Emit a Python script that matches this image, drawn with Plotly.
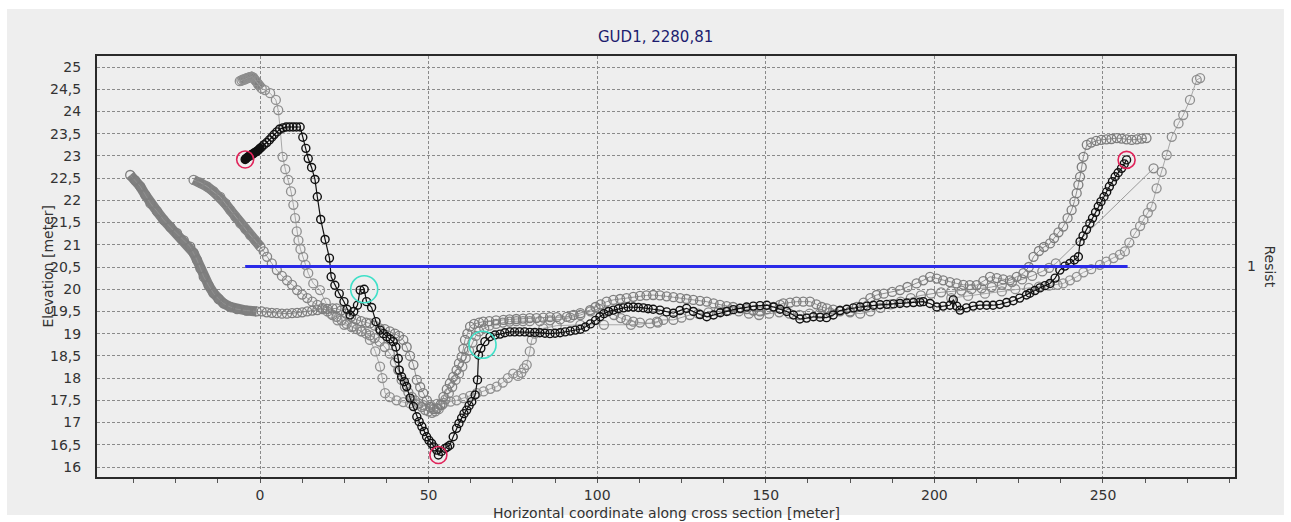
import plotly.graph_objects as go

# ---- cross-section profiles (x = horizontal coordinate [m], y = elevation [m]) ----
profile_main_x = [-4.4, -4.0, -3.5, -3.0, -2.5, -2.0, -1.5, -1.0, -0.5, 0.0, 0.5, 1.2, 2.0, 2.8, 3.5, 4.2, 5.0, 5.8,
                  6.8, 7.8, 8.8, 9.8, 10.8, 11.9, 12.7, 13.6, 14.3, 15.3, 16.3, 17.0, 18.0, 19.3, 20.6, 21.1, 22.2,
                  23.5, 24.9, 25.8, 26.7, 27.8, 28.9, 29.7, 30.9, 31.6, 33.1, 34.4, 35.6, 36.6, 37.6, 38.6, 39.5,
                  40.3, 41.0, 41.3, 42.0, 42.8, 43.5, 44.5, 45.5, 46.5, 47.2, 48.0, 48.7, 49.4, 50.1, 50.9, 51.6,
                  52.4, 52.9, 53.8, 54.9, 55.6, 56.3, 57.3, 58.3, 59.0, 59.8, 60.5, 61.3, 62.0, 62.8, 63.8, 64.5,
                  64.8, 65.5, 66.7, 68.2, 69.7, 71.2, 72.6, 74.1, 75.5, 77.0, 78.5, 80.0, 81.5, 83.0, 84.5, 86.0,
                  87.5, 89.0, 90.5, 92.0, 93.5, 95.0, 96.5, 98.0, 99.5, 100.8, 102.0, 103.4, 104.8, 106.3, 107.8,
                  109.2, 110.7, 112.2, 113.7, 115.1, 116.6, 118.6, 120.6, 122.6, 124.5, 126.5, 128.5, 130.5, 132.5,
                  134.5, 136.5, 138.4, 140.4, 142.4, 144.3, 146.3, 148.3, 150.3, 152.3, 154.2, 156.2, 158.2, 160.1,
                  162.1, 164.1, 166.1, 168.0, 170.0, 172.0, 174.0, 176.0, 178.0, 180.0, 181.9, 183.9, 185.9, 187.9,
                  189.8, 191.8, 193.8, 195.7, 196.7, 198.7, 200.7, 202.6, 204.6, 205.6, 206.6, 207.6, 209.5, 211.5,
                  213.5, 215.5, 217.4, 219.4, 221.4, 223.4, 225.3, 227.3, 228.3, 229.8, 231.3, 232.8, 234.3, 235.8,
                  237.2, 238.7, 240.2, 241.5, 242.7, 243.2, 244.1, 245.1, 246.1, 246.9, 247.8, 248.6, 249.4, 250.3,
                  251.1, 251.9, 252.8, 253.6, 254.5, 255.5, 256.3, 257.0]
profile_main_y = [22.92, 22.95, 22.98, 23.0, 23.03, 23.05, 23.08, 23.1, 23.13, 23.17, 23.2, 23.25, 23.3, 23.36, 23.42,
                  23.48, 23.54, 23.6, 23.63, 23.65, 23.65, 23.65, 23.65, 23.65, 23.42, 23.17, 22.94, 22.74, 22.47,
                  22.08, 21.57, 21.12, 20.7, 20.28, 20.09, 19.9, 19.72, 19.55, 19.42, 19.5, 19.64, 19.98, 20.0,
                  19.72, 19.59, 19.27, 19.08, 19.0, 18.93, 18.88, 18.82, 18.7, 18.44, 18.18, 18.03, 17.92, 17.81,
                  17.55, 17.36, 17.13, 17.02, 16.91, 16.8, 16.68, 16.6, 16.53, 16.45, 16.38, 16.27, 16.35, 16.42,
                  16.45, 16.49, 16.68, 16.87, 16.98, 17.1, 17.2, 17.28, 17.38, 17.47, 17.62, 17.96, 18.52, 18.67,
                  18.82, 18.93, 18.97, 18.99, 19.02, 19.04, 19.04, 19.04, 19.04, 19.03, 19.03, 19.02, 19.01, 19.0,
                  19.01, 19.02, 19.04, 19.06, 19.08, 19.1, 19.15, 19.22, 19.3, 19.38, 19.45, 19.5, 19.53, 19.56,
                  19.58, 19.6, 19.6, 19.59, 19.58, 19.56, 19.55, 19.53, 19.49, 19.46, 19.52, 19.57, 19.5, 19.43,
                  19.38, 19.42, 19.47, 19.5, 19.54, 19.57, 19.6, 19.62, 19.63, 19.64, 19.6, 19.55, 19.5, 19.42,
                  19.33, 19.35, 19.38, 19.37, 19.36, 19.42, 19.52, 19.55, 19.58, 19.6, 19.62, 19.64, 19.65, 19.66,
                  19.67, 19.68, 19.69, 19.7, 19.71, 19.72, 19.68, 19.6, 19.62, 19.64, 19.76, 19.62, 19.53, 19.58,
                  19.62, 19.64, 19.64, 19.64, 19.66, 19.7, 19.74, 19.8, 19.87, 19.91, 19.97, 20.03, 20.08, 20.13,
                  20.25, 20.43, 20.52, 20.58, 20.66, 20.73, 21.07, 21.2, 21.34, 21.48, 21.6, 21.73, 21.86, 21.97,
                  22.08, 22.19, 22.31, 22.42, 22.53, 22.62, 22.72, 22.82, 22.91]

profile_b_x = [-38.5, -37.0, -35.5, -34.0, -32.5, -30.5, -28.6, -26.6, -24.6, -22.6, -20.7, -19.7, -18.7, -17.7,
               -16.7, -15.2, -13.8, -12.3, -10.8, -8.8, -6.8, -4.0, -1.0,
               0.5, 2.0, 3.5, 5.0, 6.5, 8.0, 9.5, 11.0, 12.5, 14.0, 15.5, 17.0, 18.5, 20.0, 21.5, 22.7, 24.0, 25.5,
               27.0, 28.5, 30.0, 31.5, 32.6, 34.0, 35.5, 37.0, 38.5, 40.0, 41.2, 42.5, 43.5, 44.5, 45.5, 46.5, 47.5,
               48.4, 49.5, 50.5, 51.5, 52.5, 53.5, 54.4, 55.4, 56.3, 57.3, 58.3, 59.0, 59.8, 60.3, 60.8, 61.5, 62.3,
               63.5, 65.0, 66.2, 68.0, 70.0, 72.2, 74.0, 76.0, 78.0, 80.0, 82.0, 84.0, 86.0, 88.0, 91.0, 93.0, 95.0,
               97.9, 99.5, 101.0, 102.8, 104.8, 106.8, 108.7, 110.7, 112.7, 114.6, 116.6, 118.6, 120.6, 122.6, 124.6,
               126.5, 128.5, 130.5, 132.5, 134.5, 136.4, 138.4, 140.3, 142.3, 144.3, 146.3, 148.3, 150.3, 152.3,
               154.2, 155.2, 157.2, 159.1, 161.1, 163.1, 165.0, 166.6, 168.1, 170.0, 172.0, 175.0, 177.0, 179.0,
               181.0, 182.9, 185.0, 187.5, 189.8, 192.0, 194.7, 196.7, 198.7, 200.7, 202.6, 204.6, 206.6, 208.6,
               210.5, 212.5, 214.5, 216.5, 218.5, 220.4, 222.4, 224.4, 226.4, 228.0, 229.4, 231.0, 232.5, 234.3,
               235.5, 236.8, 238.2, 239.5, 240.7, 241.5, 242.2, 242.7, 243.2, 243.7, 244.2, 245.2, 246.5, 248.0,
               249.5, 251.0, 252.5, 254.1, 255.5, 257.0, 258.5, 260.0, 261.5, 262.9]
profile_b_y = [22.57, 22.45, 22.31, 22.12, 21.93, 21.75, 21.56, 21.4, 21.26, 21.1, 20.96, 20.82, 20.66, 20.47, 20.28,
               20.08, 19.91, 19.78, 19.68, 19.6, 19.55, 19.52, 19.5,
               19.5, 19.48, 19.47, 19.46, 19.45, 19.45, 19.46, 19.47, 19.48, 19.5, 19.52, 19.53, 19.55, 19.56, 19.57,
               19.57, 19.52, 19.45, 19.38, 19.32, 19.28, 19.25, 19.23, 19.18, 19.12, 19.1, 19.05, 19.0, 18.95, 18.86,
               18.7, 18.5, 18.3, 17.96, 17.8, 17.66, 17.5, 17.35, 17.3, 17.32, 17.4, 17.58, 17.75, 17.88, 18.03,
               18.18, 18.33, 18.48, 18.66, 18.86, 19.0, 19.16, 19.22, 19.25, 19.27, 19.28, 19.3, 19.31, 19.32, 19.33,
               19.34, 19.35, 19.35, 19.36, 19.37, 19.37, 19.38, 19.42, 19.46, 19.53, 19.6, 19.66, 19.72, 19.76,
               19.78, 19.8, 19.83, 19.85, 19.86, 19.87, 19.86, 19.84, 19.82, 19.8, 19.78, 19.76, 19.74, 19.72, 19.68,
               19.65, 19.62, 19.6, 19.57, 19.55, 19.52, 19.5, 19.55, 19.6, 19.65, 19.68, 19.7, 19.72, 19.72, 19.72,
               19.66, 19.6, 19.57, 19.54, 19.52, 19.5, 19.6, 19.7, 19.8, 19.87, 19.9, 19.94, 19.98, 20.05, 20.13,
               20.2, 20.28, 20.24, 20.2, 20.16, 20.13, 20.1, 20.09, 20.09, 20.18, 20.28, 20.25, 20.22, 20.2, 20.28,
               20.36, 20.5, 20.73, 20.86, 20.95, 21.03, 21.15, 21.28, 21.41, 21.6, 21.78, 21.97, 22.16, 22.35, 22.53,
               22.75, 22.98, 23.25, 23.3, 23.34, 23.36, 23.37, 23.38, 23.4, 23.39, 23.37, 23.36, 23.37, 23.39, 23.4]

profile_c_x = [-19.7, -17.7, -15.7, -13.8, -11.8, -10.3, -8.8, -7.3, -5.8, -4.3, -2.9, -1.4, 0.1,
               1.1, 2.1, 3.5, 5.0, 6.5, 8.0, 9.5, 11.0, 12.5, 14.0, 15.5, 17.0, 18.5, 20.0, 21.5, 22.7, 24.2, 25.7,
               27.2, 28.7, 30.2, 31.5, 32.6, 34.0, 35.5, 37.0, 38.5, 40.0, 41.0, 42.0, 43.0, 44.0, 45.0, 46.0, 47.0,
               48.0, 49.0, 50.0, 51.0, 52.0, 53.0, 54.0, 55.0, 56.0, 57.0, 58.0, 59.0, 60.0, 61.0, 62.0, 63.0, 64.0,
               65.0, 66.5, 68.0, 70.0, 72.0, 74.0, 76.0, 78.0, 80.0, 83.0, 86.0, 89.0, 92.0, 95.0, 98.0, 100.5,
               103.0, 105.0, 107.0, 108.7, 110.7, 112.7, 115.7, 117.7, 119.6, 122.6, 125.0, 127.5, 130.0, 133.0,
               136.0, 139.0, 142.0, 145.0, 148.0, 151.0, 154.0, 157.0, 160.0, 163.0, 166.0, 169.0, 172.0, 175.0,
               178.0, 181.0, 184.0, 187.0, 190.0, 193.0, 196.0, 199.0, 202.0, 205.0, 208.0, 211.0, 214.0, 217.0,
               220.0, 223.0, 226.0, 229.0, 232.0, 234.0, 236.0, 265.0]
profile_c_y = [22.46, 22.4, 22.31, 22.2, 22.08, 21.93, 21.78, 21.63, 21.48, 21.35, 21.22, 21.1, 20.96,
               20.85, 20.73, 20.58, 20.43, 20.3, 20.2, 20.1, 19.98, 19.88, 19.8, 19.72, 19.65, 19.58, 19.5, 19.42,
               19.38, 19.3, 19.22, 19.15, 19.1, 19.05, 19.0, 18.96, 18.9, 18.82, 18.7, 18.55, 18.35, 18.18, 17.96,
               17.8, 17.68, 17.58, 17.5, 17.43, 17.35, 17.28, 17.25, 17.22, 17.25, 17.3, 17.4, 17.52, 17.66, 17.8,
               17.96, 18.1, 18.26, 18.45, 18.62, 18.8, 18.95, 19.05, 19.12, 19.18, 19.22, 19.25, 19.27, 19.28,
               19.28, 19.28, 19.28, 19.3, 19.32, 19.36, 19.42, 19.5, 19.56, 19.5, 19.42, 19.35, 19.31, 19.27, 19.25,
               19.23, 19.27, 19.31, 19.31, 19.36, 19.42, 19.45, 19.48, 19.5, 19.52, 19.5, 19.45, 19.42, 19.45, 19.48,
               19.45, 19.42, 19.45, 19.45, 19.48, 19.5, 19.48, 19.45, 19.5, 19.58, 19.66, 19.72, 19.8, 19.86, 19.9,
               19.93, 19.95, 19.97, 20.0, 20.02, 20.05, 20.1, 20.16, 20.22, 20.3, 20.4, 20.48, 20.58, 22.72]

profile_a_x = [-6.0, -5.5, -5.0, -4.5, -4.0, -3.5, -3.0, -2.5, -2.0, -1.2, -0.5, 0.5, 1.5, 3.0, 4.7, 5.4, 6.0, 6.7,
               7.5, 8.4, 9.2, 9.9, 10.4, 10.9, 11.4, 12.0, 12.8, 13.5, 14.3, 15.8, 17.8, 19.5, 21.0, 23.0, 25.0,
               27.7, 30.0, 32.6, 34.2, 35.6, 36.3, 37.1, 38.5, 40.5, 42.5, 44.5, 46.5, 48.4, 50.5, 52.5, 54.5, 56.5,
               58.3, 60.3, 62.3, 64.3, 66.3, 68.3, 70.2, 72.0, 73.5, 75.1, 76.5, 77.5, 78.3, 79.1, 80.0, 80.6, 81.5,
               84.0, 88.0, 95.0, 102.0, 110.0, 118.0]
profile_a_y = [24.68, 24.7, 24.72, 24.72, 24.75, 24.76, 24.77, 24.78, 24.76, 24.68, 24.6, 24.52, 24.48, 24.41, 24.26,
               24.03, 23.6, 22.98, 22.7, 22.46, 22.2, 21.9, 21.6, 21.3, 21.1, 20.9, 20.73, 20.55, 20.36, 20.13,
               19.98, 19.7, 19.45, 19.3, 19.2, 19.16, 19.05, 18.86, 18.6, 18.26, 18.0, 17.66, 17.57, 17.5, 17.46,
               17.43, 17.4, 17.39, 17.4, 17.42, 17.44, 17.47, 17.5, 17.55, 17.6, 17.66, 17.7, 17.76, 17.81, 17.9,
               18.0, 18.1, 18.05, 18.12, 18.22, 18.3, 18.6, 18.86, 19.0, 19.12, 19.18, 19.2, 19.2, 19.2, 19.25]

profile_d_x = [205.0, 210.0, 215.0, 220.0, 224.0, 228.0, 231.0, 234.0, 236.5, 238.2, 240.2, 242.2, 244.2, 246.5,
               249.1, 251.0, 253.1, 255.0, 256.5, 257.8, 259.5, 261.0, 262.0, 263.3, 264.4, 265.9, 267.4, 268.9,
               270.4, 272.4, 273.8, 275.8, 277.8, 278.8]
profile_d_y = [19.8, 19.85, 19.9, 19.95, 20.0, 20.03, 20.06, 20.08, 20.1, 20.13, 20.2, 20.28, 20.38, 20.45, 20.55,
               20.62, 20.7, 20.78, 20.85, 21.05, 21.26, 21.42, 21.56, 21.72, 21.86, 22.27, 22.64, 23.02, 23.43,
               23.73, 23.92, 24.26, 24.71, 24.75]

# highlighted points on the main profile
bank_x = [-4.4, 52.9, 257.0]
bank_y = [22.92, 16.27, 22.91]
marker_x = [30.9, 66.0]
marker_y = [20.0, 18.75]

# resistance level (secondary axis)
resist_x = [-4.4, 257.3]
resist_y = [1, 1]

y_tick_vals = [16, 16.5, 17, 17.5, 18, 18.5, 19, 19.5, 20, 20.5, 21, 21.5, 22, 22.5, 23, 23.5, 24, 24.5, 25]
y_tick_text = ["16", "16,5", "17", "17,5", "18", "18,5", "19", "19,5", "20", "20,5", "21", "21,5", "22", "22,5",
               "23", "23,5", "24", "24,5", "25"]
x_tick_vals = [0, 50, 100, 150, 200, 250]

FONT = "DejaVu Sans"
TXT = "#333333"
TICK_SIZE = 14

fig = go.Figure()

# thick bands where survey points are packed closely
dense = [(profile_b_x[:23], profile_b_y[:23]), (profile_c_x[:13], profile_c_y[:13]),
         (profile_a_x[:12], profile_a_y[:12])]
for dx, dy in dense:
    fig.add_trace(go.Scatter(x=dx, y=dy, mode="lines", line=dict(color="#808080", width=10),
                             hoverinfo="skip"))

for px_, py_, mc, lc in [(profile_a_x, profile_a_y, "#8f8f8f", "#a8a8a8"),
                         (profile_d_x, profile_d_y, "#8f8f8f", "#a8a8a8"),
                         (profile_c_x, profile_c_y, "#858585", "#9a9a9a"),
                         (profile_b_x, profile_b_y, "#7d7d7d", "#8f8f8f")]:
    fig.add_trace(go.Scatter(x=px_, y=py_, mode="lines+markers",
                             line=dict(color=lc, width=1),
                             marker=dict(symbol="circle-open", size=9, color=mc, line=dict(width=1.3))))

fig.add_trace(go.Scatter(x=profile_main_x, y=profile_main_y, mode="lines+markers",
                         line=dict(color="#111111", width=1.2),
                         marker=dict(symbol="circle-open", size=8, color="#111111", line=dict(width=1.4))))
fig.add_trace(go.Scatter(x=profile_main_x[:10], y=profile_main_y[:10], mode="markers",
                         marker=dict(symbol="circle", size=8, color="#111111")))

fig.add_trace(go.Scatter(x=bank_x, y=bank_y, mode="markers",
                         marker=dict(symbol="circle-open", size=17, color="#e0245a", line=dict(width=1.6))))
fig.add_trace(go.Scatter(x=marker_x, y=marker_y, mode="markers",
                         marker=dict(symbol="circle-open", size=27, color="#3fe0c8", line=dict(width=1.6))))

fig.add_trace(go.Scatter(x=resist_x, y=resist_y, yaxis="y2", mode="lines",
                         line=dict(color="#2a2ae8", width=3)))

grid = dict(showgrid=True, gridcolor="#8a8a8a", gridwidth=1, griddash="3px,2px")

fig.update_layout(
    width=1291, height=522,
    margin=dict(l=97, r=56, t=56, b=45),
    paper_bgcolor="#ffffff", plot_bgcolor="#f7f7f7",
    showlegend=False,
    font=dict(family=FONT, size=TICK_SIZE, color=TXT),
    xaxis=dict(range=[-48.34, 289.15], tickvals=x_tick_vals, ticks="outside", ticklen=4,
               tickcolor="#555555", showline=True, linecolor="#2a2a2a", linewidth=2, mirror=True,
               zeroline=False, tickfont=dict(family=FONT, size=TICK_SIZE, color=TXT),
               minor=dict(dtick=12.5, tick0=0, ticks="outside", ticklen=4, tickcolor="#555555", showgrid=False),
               **grid),
    yaxis=dict(range=[15.775, 25.2475], tickvals=y_tick_vals, ticktext=y_tick_text, ticks="",
               ticklabelstandoff=11, showline=True, linecolor="#2a2a2a", linewidth=2, mirror=True,
               zeroline=False, tickfont=dict(family=FONT, size=TICK_SIZE, color=TXT), **grid),
    yaxis2=dict(range=[0, 2], overlaying="y", side="right", tickvals=[1], ticktext=["1"], ticks="",
                ticklabelstandoff=11, showgrid=False, zeroline=False, showline=False,
                tickfont=dict(family=FONT, size=TICK_SIZE, color=TXT)),
    shapes=[dict(type="rect", xref="paper", yref="paper", x0=-0.0791, x1=1.043, y0=-0.09, y1=1.1116,
                 fillcolor="#eeeeee", line=dict(width=0), layer="below")],
    annotations=[
        dict(text="GUD1, 2280,81", xref="paper", yref="paper", x=0.491, y=1.045, yanchor="middle",
             showarrow=False, font=dict(family=FONT, size=15, color="#1c1c6e")),
        dict(text="Horizontal coordinate along cross section [meter]", xref="paper", yref="paper",
             x=0.5, y=-0.085, yanchor="middle", showarrow=False,
             font=dict(family=FONT, size=14, color=TXT)),
        dict(text="Elevation [meter]", xref="paper", yref="paper", x=-0.0439, y=0.5, textangle=-90,
             yanchor="middle", xanchor="center", showarrow=False, font=dict(family=FONT, size=14, color=TXT)),
        dict(text="Resist", xref="paper", yref="paper", x=1.0308, y=0.5, textangle=90,
             xanchor="center", yanchor="middle", showarrow=False, font=dict(family=FONT, size=14, color=TXT)),
    ],
)

fig.write_html("out.html")
